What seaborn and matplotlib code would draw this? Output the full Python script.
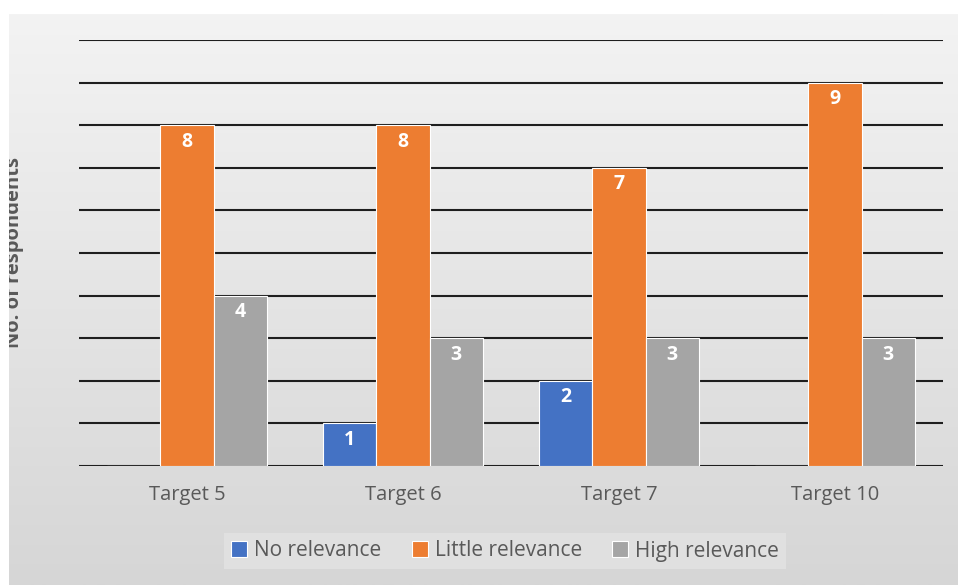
import numpy as np
import pandas as pd
import matplotlib
matplotlib.use("Agg")
import matplotlib.pyplot as plt
import seaborn as sns
from matplotlib.patches import Rectangle
from matplotlib.colors import LinearSegmentedColormap

categories = ["Target 5", "Target 6", "Target 7", "Target 10"]
series = ["No relevance", "Little relevance", "High relevance"]
no_relevance = [0, 1, 2, 0]
little_relevance = [8, 8, 7, 9]
high_relevance = [4, 3, 3, 3]
colors = ["#4472C4", "#ED7D31", "#A5A5A5"]
y_ticks = list(range(0, 11))

df = pd.DataFrame({
    "Target": categories * 3,
    "Relevance": [s for s in series for _ in categories],
    "Count": no_relevance + little_relevance + high_relevance,
})

sns.set_theme(style="white")
plt.rcParams["font.family"] = ["Open Sans", "DejaVu Sans"]

W, H = 958, 585
fig = plt.figure(figsize=(W / 100, H / 100), dpi=100, facecolor="white")

# gradient panel background
bg = fig.add_axes([9 / W, 0, 1 - 9 / W, 1 - 14 / H], zorder=0)
grad = np.linspace(0, 1, 256).reshape(-1, 1)
cmap = LinearSegmentedColormap.from_list("g", ["#f3f3f3", "#d6d6d6"])
bg.imshow(grad, aspect="auto", cmap=cmap, extent=[0, 1, 0, 1], origin="upper")
bg.set_axis_off()

ax = fig.add_axes([79 / W, 1 - 466 / H, (943 - 79) / W, (466 - 40) / H], zorder=2)
ax.patch.set_visible(False)

sns.barplot(data=df, x="Target", y="Count", hue="Relevance", hue_order=series,
            palette=colors, width=0.74, ax=ax, edgecolor="white", linewidth=0.8,
            saturation=1, legend=True, zorder=3)

ax.set_ylim(0, 10)
ax.set_xlim(-0.5, 3.5)
ax.set_yticks(y_ticks)
ax.set_yticklabels([])
ax.tick_params(axis="y", length=0)
ax.tick_params(axis="x", length=0, pad=14, labelsize=14.5, labelcolor="#595959")
ax.yaxis.grid(True, color="#1e1e1e", linewidth=1.5, zorder=0)
ax.set_axisbelow(True)
for s in ax.spines.values():
    s.set_visible(False)
ax.set_xlabel("")
ax.set_ylabel("")

for cont in ax.containers:
    labels = [f"{int(v)}" if v > 0 else "" for v in cont.datavalues]
    ax.bar_label(cont, labels=labels, label_type="edge", padding=-19,
                 color="white", fontsize=14, fontweight="bold")

handles, labels = ax.get_legend_handles_labels()
ax.get_legend().remove()
leg = fig.legend(handles, labels, loc="center", bbox_to_anchor=(505 / W, 1 - 551 / H),
                 ncol=3, frameon=True, facecolor="#e0e0e0", edgecolor="none",
                 framealpha=1, fontsize=15, handlelength=0.77, handleheight=0.77,
                 handletextpad=0.33, columnspacing=1.45, borderpad=0.35, fancybox=False)
for t in leg.get_texts():
    t.set_color("#595959")

fig.text(14 / W, 1 - 253 / H, "No. of respondents", rotation=90, ha="center",
         va="center", fontsize=14.5, fontweight="bold", color="#595959", zorder=1)
# clip the title at the panel edge
fig.patches.append(Rectangle((0, 0), 9 / W, 1, transform=fig.transFigure,
                             facecolor="white", edgecolor="none", zorder=5))
fig.patches.append(Rectangle((0, 1 - 14 / H), 1, 14 / H, transform=fig.transFigure,
                             facecolor="white", edgecolor="none", zorder=5))

fig.savefig("out.png", dpi=100)
